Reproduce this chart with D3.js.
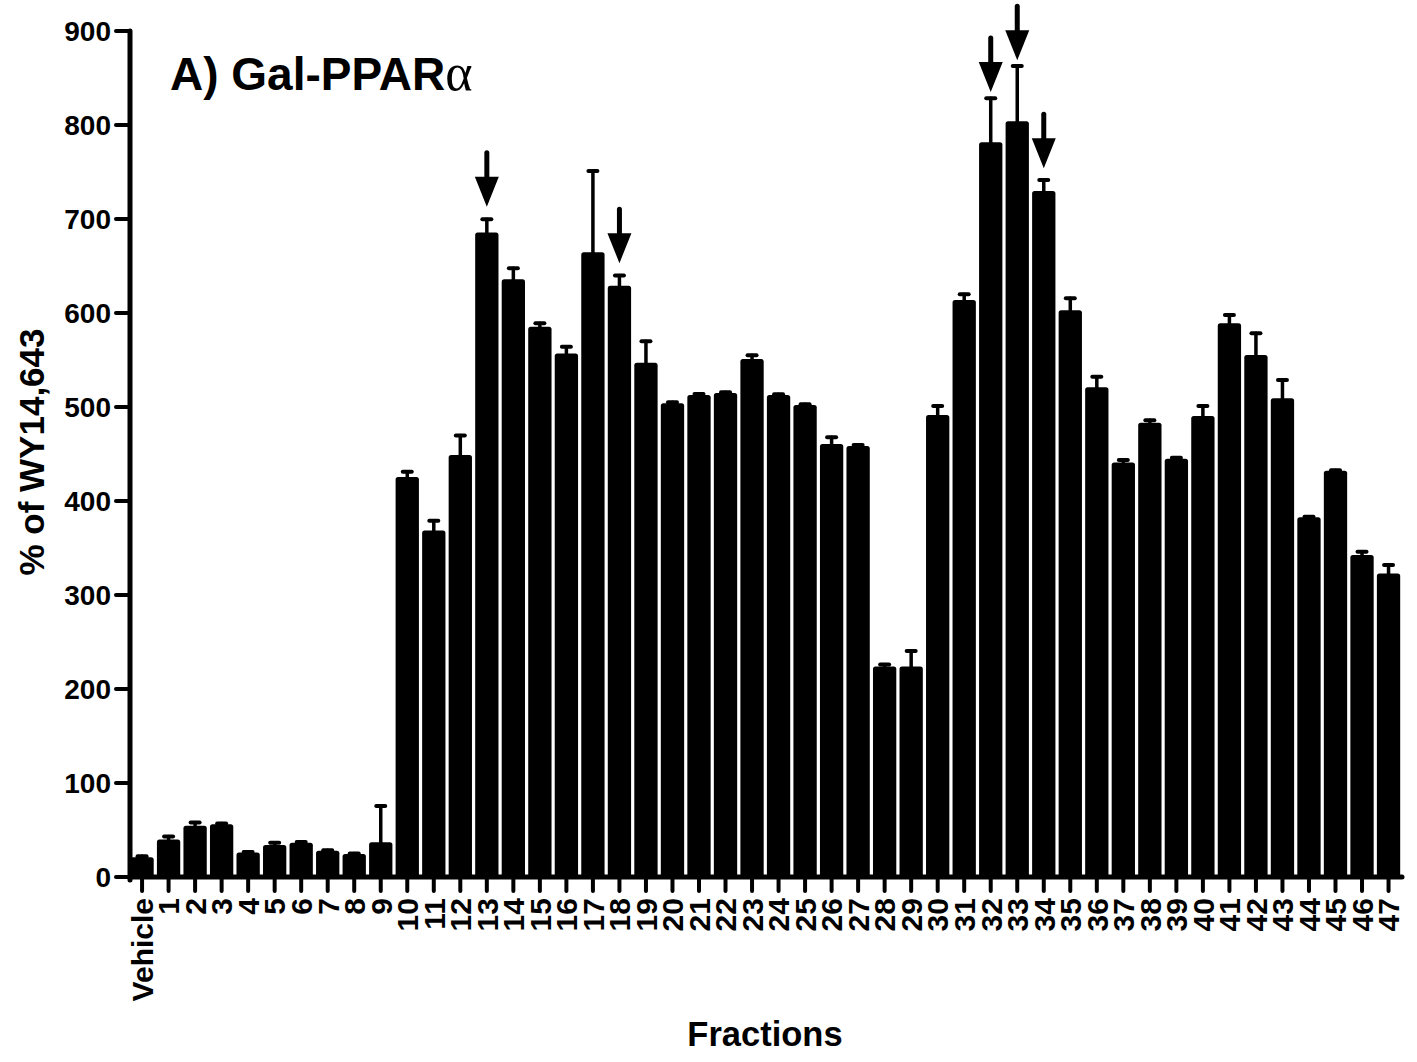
<!DOCTYPE html>
<html>
<head>
<meta charset="utf-8">
<script src="https://cdn.jsdelivr.net/npm/d3@7"></script>
<style>
  html, body { margin: 0; padding: 0; background: #fff; }
  svg { display: block; }
  text { font-family: "Liberation Sans", Arial, Helvetica, sans-serif; font-weight: bold; fill: #000; }
</style>
</head>
<body>
<svg id="chart" width="1417" height="1062"></svg>
<script>
// Fractions tested on the Gal-PPARα reporter, response as % of WY14,643
const fractions = ["Vehicle", "1", "2", "3", "4", "5", "6", "7", "8", "9",
  "10", "11", "12", "13", "14", "15", "16", "17", "18", "19",
  "20", "21", "22", "23", "24", "25", "26", "27", "28", "29",
  "30", "31", "32", "33", "34", "35", "36", "37", "38", "39",
  "40", "41", "42", "43", "44", "45", "46", "47"];

const meanValues = [21, 40, 54.6, 56, 26, 34, 36.5, 28, 24.5, 37,
  425.5, 368.5, 449, 685.6, 636, 585.4, 557, 664.6, 629, 547,
  504, 512.8, 515, 551, 512.8, 502, 460.6, 458.5, 224, 224,
  491.5, 613.8, 781.6, 804, 729.8, 603, 521, 441, 483.3, 445,
  490.4, 589, 555.3, 509.3, 382.7, 432.2, 342.6, 323];

const semValues = [1, 3, 3.5, 0.8, 0.5, 2.5, 0.7, 0.5, 0.5, 38.5,
  5.5, 10.5, 20.7, 14.2, 11.5, 3.6, 7, 86.4, 11, 23,
  1, 1, 0.8, 4, 0.8, 1, 7.2, 1, 2, 16.5,
  9.5, 6.2, 46.8, 58.8, 11.7, 12.6, 11.2, 2.6, 2.7, 1,
  10.6, 9, 23.1, 19.4, 0.5, 0.5, 3.4, 9];

// Active fractions marked with a downward arrow; tip position in axis units
const arrowFractions = ["13", "18", "32", "33", "34"];
const arrowTipValues = [713, 653, 835, 869, 754];

const yTickValues = [0, 100, 200, 300, 400, 500, 600, 700, 800, 900];

const svg = d3.select("#chart");

const x = d3.scaleBand()
  .domain(fractions)
  .range([128.6, 1402])
  .paddingInner(0.121)
  .paddingOuter(0.068);

const y = d3.scaleLinear()
  .domain([0, 900])
  .range([877, 31]);

const axisX = 130;

// Bars
svg.append("g").selectAll("rect")
  .data(fractions)
  .join("rect")
  .attr("x", d => x(d))
  .attr("y", (d, i) => y(meanValues[i]))
  .attr("width", x.bandwidth())
  .attr("height", (d, i) => y(0) - y(meanValues[i]))
  .attr("rx", 2.5)
  .attr("fill", "#000");

// Error bars (upper half only)
const err = svg.append("g").attr("stroke", "#000").attr("stroke-linecap", "round");
err.selectAll("line.stem")
  .data(fractions)
  .join("line")
  .attr("class", "stem")
  .attr("x1", d => x(d) + x.bandwidth() / 2)
  .attr("x2", d => x(d) + x.bandwidth() / 2)
  .attr("y1", (d, i) => y(meanValues[i]))
  .attr("y2", (d, i) => y(meanValues[i] + semValues[i]))
  .attr("stroke-width", 3.5);
err.selectAll("line.cap")
  .data(fractions)
  .join("line")
  .attr("class", "cap")
  .attr("x1", d => x(d) + x.bandwidth() / 2 - 4.5)
  .attr("x2", d => x(d) + x.bandwidth() / 2 + 4.5)
  .attr("y1", (d, i) => y(meanValues[i] + semValues[i]))
  .attr("y2", (d, i) => y(meanValues[i] + semValues[i]))
  .attr("stroke-width", 4);

// Arrows
const arrows = svg.append("g");
arrowFractions.forEach((f, i) => {
  const cx = x(f) + x.bandwidth() / 2;
  const tip = y(arrowTipValues[i]);
  const headLen = 30, headHalf = 12, shaftLen = 24;
  arrows.append("line")
    .attr("x1", cx).attr("x2", cx)
    .attr("y1", tip - headLen - shaftLen).attr("y2", tip - headLen + 2)
    .attr("stroke", "#000").attr("stroke-width", 5).attr("stroke-linecap", "round");
  arrows.append("path")
    .attr("d", `M${cx - headHalf},${tip - headLen} L${cx + headHalf},${tip - headLen} L${cx},${tip} Z`)
    .attr("fill", "#000");
});

// Y axis
const yAxis = svg.append("g");
yAxis.append("line")
  .attr("x1", axisX).attr("x2", axisX)
  .attr("y1", y(900)).attr("y2", y(0) + 3)
  .attr("stroke", "#000").attr("stroke-width", 5).attr("stroke-linecap", "round");
yAxis.selectAll("line.tick")
  .data(yTickValues)
  .join("line")
  .attr("class", "tick")
  .attr("x1", axisX - 14).attr("x2", axisX)
  .attr("y1", d => y(d)).attr("y2", d => y(d))
  .attr("stroke", "#000").attr("stroke-width", 4).attr("stroke-linecap", "round");
yAxis.selectAll("text")
  .data(yTickValues)
  .join("text")
  .attr("x", axisX - 19)
  .attr("y", d => y(d))
  .attr("dy", "0.36em")
  .attr("text-anchor", "end")
  .attr("font-size", 28)
  .text(d => d);

// X axis
const xAxis = svg.append("g");
xAxis.append("line")
  .attr("x1", axisX).attr("x2", 1402)
  .attr("y1", y(0)).attr("y2", y(0))
  .attr("stroke", "#000").attr("stroke-width", 5).attr("stroke-linecap", "round");
xAxis.selectAll("line.tick")
  .data(fractions)
  .join("line")
  .attr("class", "tick")
  .attr("x1", d => x(d) + x.bandwidth() / 2)
  .attr("x2", d => x(d) + x.bandwidth() / 2)
  .attr("y1", y(0)).attr("y2", y(0) + 14)
  .attr("stroke", "#000").attr("stroke-width", 4).attr("stroke-linecap", "round");
xAxis.selectAll("text")
  .data(fractions)
  .join("text")
  .attr("transform", d => `translate(${x(d) + x.bandwidth() / 2},${y(0) + 21}) rotate(-90)`)
  .attr("dy", "0.36em")
  .attr("text-anchor", "end")
  .attr("font-size", 30)
  .text(d => d);

// Axis titles
svg.append("text")
  .attr("transform", "translate(44,452) rotate(-90)")
  .attr("text-anchor", "middle")
  .attr("font-size", 35)
  .text("% of WY14,643");

svg.append("text")
  .attr("x", 765)
  .attr("y", 1046)
  .attr("text-anchor", "middle")
  .attr("font-size", 34.5)
  .text("Fractions");

// Panel title
const title = svg.append("text")
  .attr("x", 170)
  .attr("y", 90)
  .attr("font-size", 46);
title.append("tspan").text("A) Gal-PPAR");
title.append("tspan")
  .style("font-family", "'Liberation Serif', 'DejaVu Serif', serif")
  .style("font-weight", "normal")
  .style("font-size", "52px")
  .text("α");
</script>
</body>
</html>
